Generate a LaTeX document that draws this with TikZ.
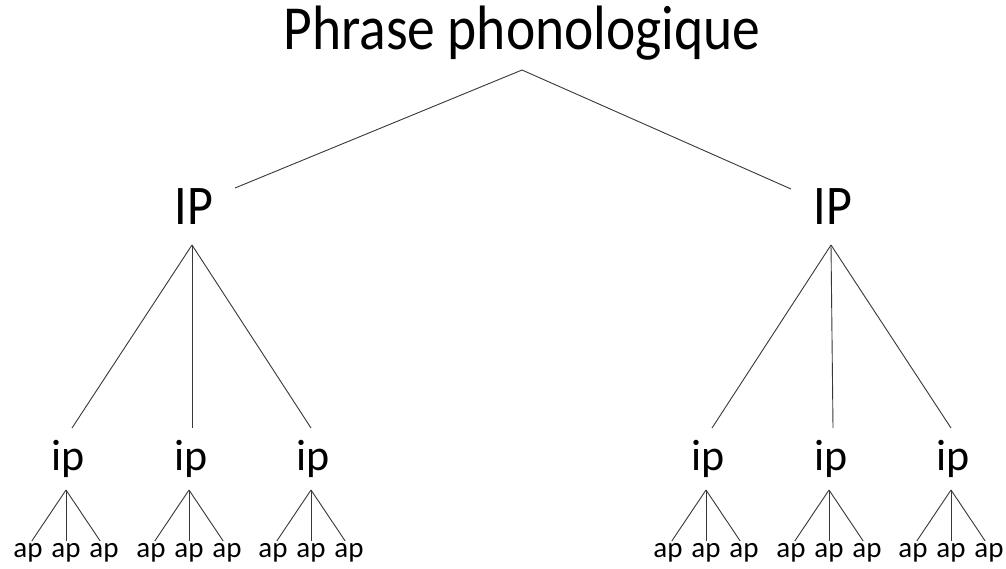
\documentclass[tikz,border=0pt]{standalone}
\usepackage{fontspec}
\setmainfont{Carlito}
\begin{document}
\begin{tikzpicture}[x=1pt,y=-1pt,
  edge/.style={draw=black!78, line width=0.9pt},
  lbl/.style={anchor=base, inner sep=0pt, text=black},
  pplbl/.style={lbl, font=\fontsize{55.5}{60}\selectfont},
  bigip/.style={lbl, font=\fontsize{50}{56}\selectfont},
  smallip/.style={lbl, font=\fontsize{44}{48}\selectfont},
  aplbl/.style={lbl, font=\fontsize{29}{32}\selectfont}]
\fill[white] (0,0) rectangle (1006,568);
\useasboundingbox (0,0) rectangle (1006,568);
% top
\node[pplbl] (PP) at (522,49.5) {\scalebox{1}[1.13]{Phrase phonologique}};
\coordinate (PPa) at (522,70);
% IP nodes
\node[bigip] (IPl) at (194,224) {\scalebox{1}[1.12]{IP}};
\node[bigip] (IPr) at (833,224) {\scalebox{1}[1.12]{IP}};
\coordinate (IPlt) at (235,188);
\coordinate (IPrt) at (791,189);
\coordinate (IPla) at (192,245);
\coordinate (IPra) at (831,245);
\draw[edge] (IPlt) -- (PPa) -- (IPrt);
% ip nodes and ap leaves
\foreach \s/\c/\f/\k in {l1/66/72/IPla, l2/189/192/IPla, l3/311/311/IPla,
                         r1/706/712/IPra, r2/829/833/IPra, r3/951/951/IPra}{
  \node[smallip] (ip\s) at (\c+2,470) {ip};
  \coordinate (ipt\s) at (\f,428);
  \coordinate (ipa\s) at (\c,490);
  \draw[edge] (\k) -- (ipt\s);
  \foreach \d/\j in {-38/1,0/2,38/3}{
    \node[aplbl] (ap\s\j) at (\c+\d,557) {ap};
    \coordinate (apt\s\j) at (\c+0.9*\d,541);
    \draw[edge] (ipa\s) -- (apt\s\j);
  }
}
\end{tikzpicture}
\end{document}
